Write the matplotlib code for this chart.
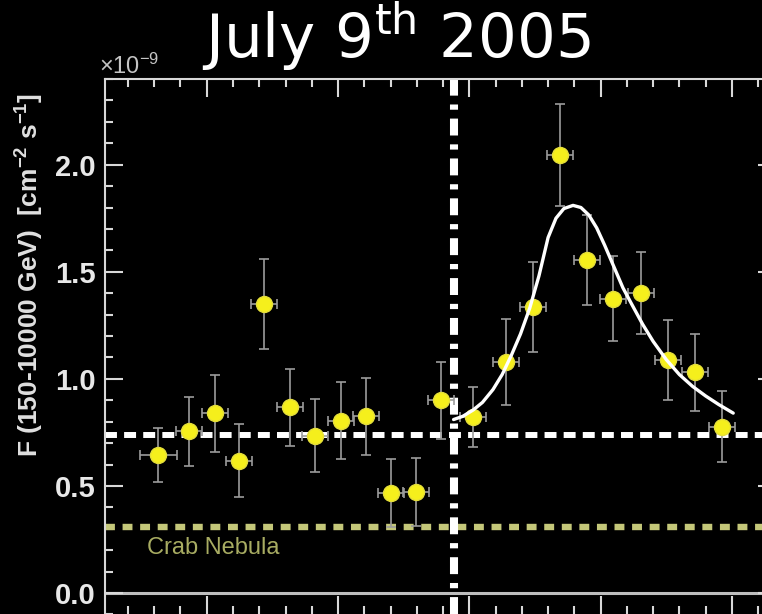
import matplotlib.pyplot as plt
from matplotlib.ticker import MultipleLocator

plt.rcParams['mathtext.default'] = 'regular'

# bin centres [min], half bin width [min], flux above 150 GeV [1e-9 cm^-2 s^-1]
t_min = [6.3, 8.65, 10.6, 12.45, 14.35, 16.35, 18.25, 20.25, 22.15, 24.05, 25.95,
         27.85, 30.3, 32.8, 34.85, 36.9, 38.95, 40.95, 43.1, 45.15, 47.2, 49.25]
t_half = [1.4, 1.0, 1.0, 1.0, 1.0, 1.0, 1.0, 1.0, 1.0, 1.0, 1.0,
          1.0, 1.0, 1.0, 1.0, 1.0, 1.0, 1.0, 1.0, 1.0, 1.0, 1.0]
flux = [0.645, 0.755, 0.84, 0.617, 1.35, 0.867, 0.734, 0.805, 0.825, 0.467, 0.472,
        0.90, 0.822, 1.08, 1.335, 2.045, 1.557, 1.375, 1.40, 1.088, 1.03, 0.776]
flux_err = [0.125, 0.16, 0.18, 0.17, 0.21, 0.18, 0.17, 0.18, 0.18, 0.16, 0.16,
            0.18, 0.14, 0.20, 0.21, 0.24, 0.21, 0.20, 0.19, 0.185, 0.18, 0.165]

# flare fit curve
fit_t = [28.8, 29.5, 30.3, 31.0, 31.8, 32.5, 33.2, 33.9, 34.6, 35.3, 36.0, 36.6,
         37.2, 37.9, 38.5, 39.1, 39.7, 40.3, 41.0, 41.7, 42.4, 43.2, 44.0, 45.0,
         46.0, 47.0, 48.0, 49.0, 50.1]
fit_flux = [0.81, 0.825, 0.855, 0.89, 0.95, 1.02, 1.11, 1.21, 1.33, 1.48, 1.66, 1.75,
            1.795, 1.81, 1.80, 1.765, 1.705, 1.625, 1.525, 1.425, 1.345, 1.255, 1.175,
            1.09, 1.02, 0.965, 0.92, 0.88, 0.84]

mean_flux = 0.74
crab_flux = 0.31
flare_start = 28.8

narrow = ['Liberation Sans Narrow', 'Liberation Sans', 'DejaVu Sans']
fg = '#d8d8d8'

fig = plt.figure(figsize=(7.62, 6.14), dpi=100, facecolor='black')
ax = fig.add_axes([0.1378, -0.0007, 0.8806, 0.872])
ax.set_facecolor('black')

ax.set_xlim(2.25, 53.36)
ax.set_ylim(-0.10, 2.40)

# reference levels
ax.axhline(0.0, color='#bdbdbd', lw=2.2, zorder=1)
ax.axhline(mean_flux, color='white', lw=4.3, dashes=(2.0, 1.2), zorder=2)
ax.axhline(crab_flux, color='#c4c779', lw=4.6, dashes=(1.55, 1.2), zorder=2)
ax.axvline(flare_start, color='white', lw=5.8, dashes=(2.1, 1.1, 0.65, 1.1), zorder=2)
ax.text(5.45, 0.21, 'Crab Nebula', color='#a8ac62', fontsize=17,
        family=['Liberation Sans', 'DejaVu Sans'], va='center', ha='left')

# light curve
ax.errorbar(t_min, flux, xerr=t_half, yerr=flux_err, fmt='none',
            ecolor='#9c9c9c', elinewidth=1.2, capsize=3.5, capthick=1.2, zorder=3)
ax.plot(t_min, flux, 'o', ms=11.5, mfc='#f5ef1c', mec='#e4de3a', mew=1, zorder=4)
ax.plot(fit_t, fit_flux, color='white', lw=2.4, solid_capstyle='round',
        solid_joinstyle='round', zorder=5)

# axes cosmetics
for side in ['left', 'top', 'right']:
    ax.spines[side].set_color(fg)
    ax.spines[side].set_linewidth(1.5)
ax.spines['bottom'].set_visible(False)

ax.xaxis.set_major_locator(MultipleLocator(10))
ax.xaxis.set_minor_locator(MultipleLocator(2))
ax.yaxis.set_major_locator(MultipleLocator(0.5))
ax.yaxis.set_minor_locator(MultipleLocator(0.1))
ax.tick_params(which='both', direction='in', top=True, right=True, bottom=True,
               color=fg, width=1.5, labelbottom=False, labelcolor='#e8e8e8',
               labelsize=21, pad=7)
ax.tick_params(which='major', length=13)
ax.tick_params(which='minor', length=6)
ax.set_yticks([0.0, 0.5, 1.0, 1.5, 2.0])
ax.set_yticklabels(['0.0', '0.5', '1.0', '1.5', '2.0'])
for lab in ax.get_yticklabels():
    lab.set_family(narrow)
    lab.set_weight('bold')

fig.text(30 / 762, 1 - 275 / 614, r'F (150-10000 GeV)  [cm$^{-2}$ s$^{-1}$]',
         rotation=90, ha='center', va='center', color='#e0e0e0', fontsize=19,
         family=['Liberation Sans', 'DejaVu Sans'], weight='bold')
fig.text(99 / 762, 1 - 74 / 614, r'$\times$10$^{-9}$', color='#c4c4c4',
         fontsize=17, family=narrow, ha='left', va='baseline')
fig.text(397 / 762, 1 - 57 / 614, r'July 9$^{th}$ 2005', color='white',
         fontsize=44, family='DejaVu Sans', ha='center', va='baseline')

fig.savefig('out.png', dpi=100, facecolor='black')
